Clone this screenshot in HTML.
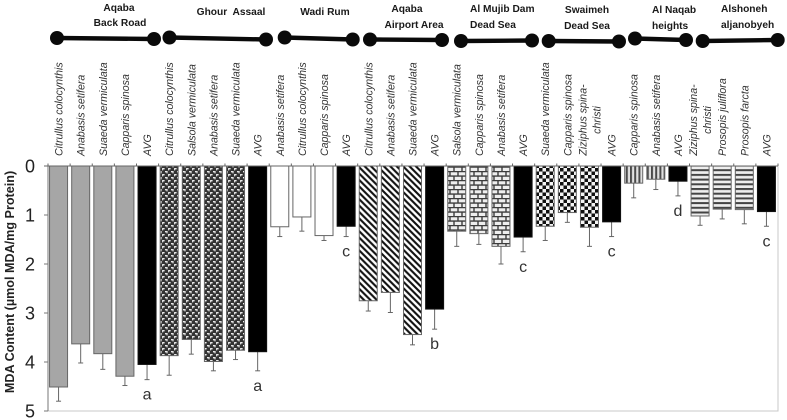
<!DOCTYPE html>
<html lang="en">
<head>
<meta charset="utf-8">
<title>MDA Content by Site</title>
<style>
html,body{margin:0;padding:0;background:#fff;}
svg{display:block;font-family:"Liberation Sans",sans-serif;filter:blur(0.3px);}
</style>
</head>
<body>
<svg id="chart" xmlns="http://www.w3.org/2000/svg" width="787" height="420" viewBox="0 0 787 420">
<defs>
<pattern id="p-dots" patternUnits="userSpaceOnUse" width="6" height="6"><rect width="6" height="6" fill="#333"/><rect x="0" y="0" width="2.6" height="1.4" fill="#eee"/><rect x="0" y="0" width="1.2" height="2.4" fill="#ddd"/><rect x="3" y="3" width="2.6" height="1.4" fill="#eee"/><rect x="4.4" y="3" width="1.2" height="2.4" fill="#ddd"/></pattern>
<pattern id="p-diag" patternUnits="userSpaceOnUse" width="6.4" height="6.4"><rect width="6.4" height="6.4" fill="#fff"/><path d="M-1 -1L7.4 7.4M-1 5.4L1 7.4M5.4 -1L7.4 1" stroke="#111" stroke-width="2.1" fill="none"/></pattern>
<pattern id="p-brick" patternUnits="userSpaceOnUse" width="8" height="9"><rect width="8" height="9" fill="#eee"/><path d="M0 .6H8M0 5.1H8M2 0V4.5M6 4.5V9" stroke="#3c3c3c" stroke-width="1.4" fill="none"/></pattern>
<pattern id="p-check" patternUnits="userSpaceOnUse" width="7" height="7"><rect width="7" height="7" fill="#f4f4f4"/><rect width="3.5" height="3.5" fill="#111"/><rect x="3.5" y="3.5" width="3.5" height="3.5" fill="#111"/></pattern>
<pattern id="p-vert" patternUnits="userSpaceOnUse" width="4.2" height="4"><rect width="4.2" height="4" fill="#e0e0e0"/><rect width="2" height="4" fill="#4a4a4a"/></pattern>
<pattern id="p-horiz" patternUnits="userSpaceOnUse" width="4" height="4.7"><rect width="4" height="4.7" fill="#eee"/><rect width="4" height="2" fill="#444"/></pattern>
</defs>
</svg>
<script>
const species = ["Citrullus colocynthis","Anabasis setifera","Suaeda vermiculata","Capparis spinosa","AVG","Citrullus colocynthis","Salsola vermiculata","Anabasis setifera","Suaeda vermiculata","AVG","Anabasis setifera","Citrullus colocynthis","Capparis spinosa","AVG","Citrullus colocynthis","Anabasis setifera","Suaeda vermiculata","AVG","Salsola vermiculata","Capparis spinosa","Anabasis setifera","AVG","Suaeda vermiculata","Capparis spinosa","Ziziphus spina-|christi","AVG","Capparis spinosa","Anabasis setifera","AVG","Ziziphus spina-|christi","Prosopis juliflora","Prosopis farcta","AVG"];
const mdaValues = [4.51,3.63,3.83,4.29,4.05,3.87,3.54,3.99,3.76,3.79,1.24,1.04,1.42,1.23,2.75,2.58,3.44,2.92,1.33,1.38,1.64,1.45,1.23,0.95,1.25,1.14,0.35,0.27,0.31,1.02,0.88,0.89,0.93];
const errorValues = [0.29,0.39,0.32,0.19,0.31,0.40,0.30,0.19,0.19,0.39,0.20,0.29,0.10,0.21,0.21,0.41,0.21,0.41,0.31,0.22,0.36,0.30,0.29,0.20,0.39,0.30,0.30,0.21,0.30,0.19,0.20,0.29,0.30];
const siteOfBar = [0,0,0,0,0,1,1,1,1,1,2,2,2,2,3,3,3,3,4,4,4,4,5,5,5,5,6,6,6,7,7,7,7];
const sigLetters = {4:"a",9:"a",13:"c",17:"b",21:"c",25:"c",28:"d",32:"c"};
const yTicks = [0,1,2,3,4,5];

const svg = document.getElementById('chart');
const NS = 'http://www.w3.org/2000/svg';
const plot = {left:48, right:778, top:166, bottom:411, max:5};
const siteFills = ['#a6a6a6','url(#p-dots)','#ffffff','url(#p-diag)','url(#p-brick)','url(#p-check)','url(#p-vert)','url(#p-horiz)'];
const sy = v => plot.top + (v / plot.max) * (plot.bottom - plot.top);
const step = (plot.right - plot.left) / species.length;
const sx = i => plot.left + (i + 0.5) * step;

function mk(tag, attrs, parent, text) {
  const el = document.createElementNS(NS, tag);
  for (const k in attrs) el.setAttribute(k, attrs[k]);
  if (text !== undefined) el.textContent = text;
  (parent || svg).appendChild(el);
  return el;
}

/* site header dumbbells */
const siteHeaders = [
  {name:'aqaba-back-road', line:[57,38,154,39], text:[['Aqaba',119,11,'middle'],['Back Road',120,26,'middle']]},
  {name:'ghour-assaal', line:[169.5,37.5,266,39.5], text:[['Ghour\u00a0 Assaal',231,15,'middle']]},
  {name:'wadi-rum', line:[284.7,37.5,352.7,39.5], text:[['Wadi Rum',325,15,'middle']]},
  {name:'aqaba-airport-area', line:[370,39.5,442,40], text:[['Aqaba',407,12,'middle'],['Airport Area',414,28,'middle']]},
  {name:'al-mujib-dam-dead-sea', line:[461,41,532,40.5], text:[['Al Mujib Dam',470,12,'start'],['Dead Sea',470,28,'start']]},
  {name:'swaimeh-dead-sea', line:[548.7,41,619,41.5], text:[['Swaimeh',587,13,'middle'],['Dead Sea',587,29,'middle']]},
  {name:'al-naqab-heights', line:[635,38.5,686,40], text:[['Al Naqab',652,13,'start'],['heights',652,29,'start']]},
  {name:'alshoneh-aljanobyeh', line:[702.7,41,777.7,40], text:[['Alshoneh',721,12,'start'],['aljanobyeh',721,28,'start']]}
];
siteHeaders.forEach(h => {
  const g = mk('g', {});
  
  
  const [x1,y1,x2,y2] = h.line;
  mk('line', {x1,y1,x2,y2,stroke:'#0a0a0a','stroke-width':4.4}, g);
  mk('circle', {cx:x1,cy:y1,r:7,fill:'#0a0a0a'}, g);
  mk('circle', {cx:x2,cy:y2,r:7,fill:'#0a0a0a'}, g);
  h.text.forEach(t => mk('text', {x:t[1],y:t[2],'text-anchor':t[3],'font-size':10.2,'font-weight':'bold',fill:'#1a1a1a'}, g, t[0]));
});

/* frame */
const frame = mk('path', {d:`M${plot.left} ${plot.bottom}H${plot.right}V${plot.top}`, fill:'none', stroke:'#c8c8c8', 'stroke-width':1});



/* bars */
species.forEach((label, i) => {
  const isAvg = label === 'AVG';
  const cx = sx(i) - 0.5;
  const g = mk('g', {});
  
  
  const top = sy(mdaValues[i]);
  const end = sy(mdaValues[i] + errorValues[i]);
  mk('line', {x1:cx,y1:top,x2:cx,y2:end,stroke:'#666','stroke-width':1}, g);
  mk('line', {x1:cx-2.5,y1:end,x2:cx+2.5,y2:end,stroke:'#666','stroke-width':1}, g);
  mk('rect', {x:cx-9,y:plot.top,width:18,height:top-plot.top,fill:isAvg?'#000':siteFills[siteOfBar[i]],stroke:isAvg?'#111':'#666','stroke-width':1}, g);

  const parts = label.split('|');
  const lab = mk('text', {
    'font-size':10.6,'font-style':'italic',fill:'#333',
    transform:`translate(${cx+4},${parts.length>1?120:156}) rotate(-90)`,
    'text-anchor':parts.length>1?'middle':'start'
  });
  
  
  if (parts.length > 1) {
    mk('tspan', {x:0,y:-7}, lab, parts[0]);
    mk('tspan', {x:0,y:7}, lab, parts[1]);
  } else {
    lab.textContent = label;
  }

  if (sigLetters[i]) {
    const s = mk('text', {x:cx,y:end+20,'text-anchor':'middle','font-size':16,fill:'#333'}, null, sigLetters[i]);
    
    
  }
});

/* axes */
const yAxis = mk('g', {});


mk('line', {x1:plot.left,y1:plot.top,x2:plot.left,y2:plot.bottom,stroke:'#777','stroke-width':1}, yAxis);
yTicks.forEach(t => {
  mk('line', {x1:plot.left-4,y1:sy(t),x2:plot.left,y2:sy(t),stroke:'#777','stroke-width':1}, yAxis);
  mk('text', {x:35,y:sy(t)+6.5,'text-anchor':'end','font-size':18,fill:'#222'}, yAxis, String(t));
});
const xAxis = mk('g', {});


mk('line', {x1:plot.left-4,y1:plot.top,x2:plot.right,y2:plot.top,stroke:'#666','stroke-width':1}, xAxis);
for (let i = 0; i <= species.length; i++) {
  const x = plot.left + i * step;
  mk('line', {x1:x,y1:plot.top-2.5,x2:x,y2:plot.top,stroke:'#666','stroke-width':1}, xAxis);
}
const yTitle = mk('text', {transform:'translate(14,282) rotate(-90)','text-anchor':'middle','font-size':12.6,'font-weight':'bold',fill:'#222'}, null, 'MDA Content (µmol MDA/mg Protein)');


</script>
</body>
</html>
